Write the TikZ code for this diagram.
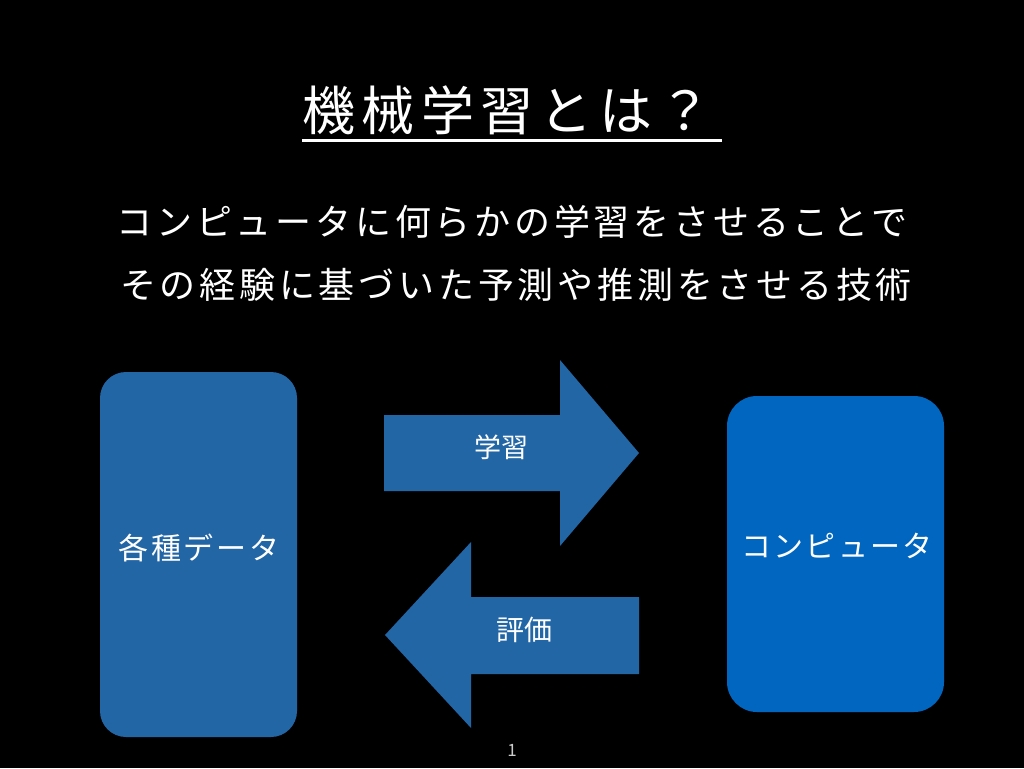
\documentclass[tikz,border=0pt]{standalone}
\usepackage{fontspec}
\setmainfont{Noto Sans CJK JP}
\definecolor{boxa}{RGB}{34,102,166}
\definecolor{boxb}{RGB}{0,102,192}
\tikzset{
  lbl/.style={text=white, inner sep=0pt, anchor=center},
  shapeA/.style={fill=boxa, draw=none},
}
\begin{document}
\begin{tikzpicture}[x=1pt,y=-1pt]
\fill[black] (0,0) rectangle (1024,768);
\useasboundingbox (0,0) rectangle (1024,768);
% title
\node[lbl] (title) at (507,110) {\fontsize{53}{60}\selectfont\addfontfeature{LetterSpace=12}機械学習とは？};
\coordinate (ulA) at (302,140);
\coordinate (ulB) at (722,140);
\draw[white, line width=3pt] (ulA) -- (ulB);
% body
\node[lbl] (line1) at (512,222) {\fontsize{36}{40}\selectfont\addfontfeature{LetterSpace=10.5}コンピュータに何らかの学習をさせることで};
\node[lbl] (line2) at (516,285) {\fontsize{36}{40}\selectfont\addfontfeature{LetterSpace=10.5}その経験に基づいた予測や推測をさせる技術};
% boxes
\node[shapeA, rounded corners=26pt, minimum width=197pt, minimum height=365pt, inner sep=0pt] (data) at (198.5,554.5) {};
\node[lbl] (datat) at (199,548) {\fontsize{30}{34}\selectfont\addfontfeature{LetterSpace=9}各種データ};
\node[fill=boxb, rounded corners=30pt, minimum width=217pt, minimum height=316pt, inner sep=0pt] (comp) at (835.5,554) {};
\node[lbl] (compt) at (837,546) {\fontsize{30}{34}\selectfont\addfontfeature{LetterSpace=7}コンピュータ};
% arrows
\fill[boxa] (384,415) -- (560,415) -- (560,360) -- (639,453) -- (560,546) -- (560,491) -- (384,491) -- cycle;
\node[lbl] (learn) at (501,447) {\fontsize{27}{30}\selectfont 学習};
\fill[boxa] (639,597) -- (471,597) -- (471,542) -- (385,635) -- (471,728) -- (471,674) -- (639,674) -- cycle;
\node[lbl] (eval) at (524,630) {\fontsize{28}{30}\selectfont 評価};
% page number
\node[lbl, text=white!80!black] (pg) at (512,750) {\fontsize{17}{20}\selectfont 1};
\end{tikzpicture}
\end{document}
